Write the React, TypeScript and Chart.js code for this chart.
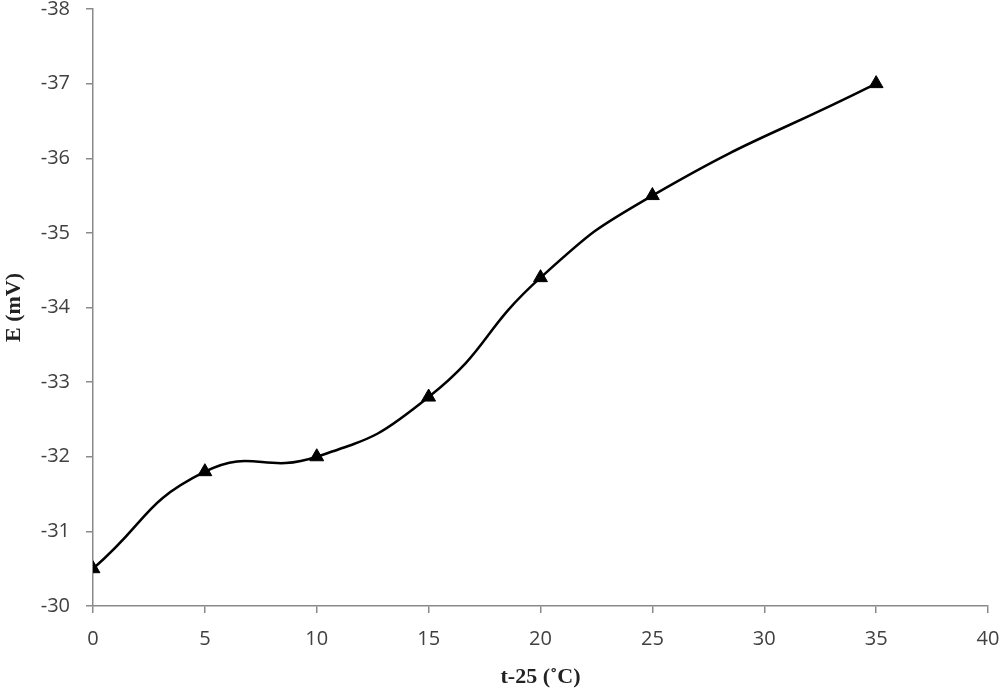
import React, { useEffect, useRef } from "react";
import { Chart, registerables } from "chart.js";

Chart.register(...registerables);

const xValues = [0, 5, 10, 15, 20, 25, 35];
const eValues = [-30.5, -31.8, -32.0, -32.8, -34.4, -35.5, -37.0];
const xTitle = "t-25 (˚C)";
const yTitle = "E (mV)";

export default function App() {
  const ref = useRef<HTMLCanvasElement | null>(null);
  useEffect(() => {
    if (!ref.current) return;
    const axisColor = "#8a8a8a";
    const tickFont = { family: "'Open Sans', sans-serif", size: 20 };
    const titleFont = { family: "'Liberation Serif', 'Times New Roman', serif", size: 22, weight: "bold" as const };
    const chart = new Chart(ref.current, {
      type: "line",
      data: {
        datasets: [
          {
            data: xValues.map((x, i) => ({ x, y: eValues[i] })),
            borderColor: "#000",
            backgroundColor: "#000",
            borderWidth: 2.5,
            tension: 0.5,
            pointStyle: "triangle",
            pointRadius: 8,
            pointHoverRadius: 8,
            pointBackgroundColor: "#000",
            pointBorderColor: "#000",
            pointBorderWidth: 1,
            fill: false,
          },
        ],
      },
      options: {
        animation: false,
        responsive: true,
        maintainAspectRatio: false,
        layout: { padding: { top: 9, right: 12, left: 0, bottom: 0 } },
        plugins: { legend: { display: false }, tooltip: { enabled: false } },
        scales: {
          x: {
            type: "linear",
            min: 0,
            max: 40,
            ticks: { stepSize: 5, color: "#404040", font: tickFont, padding: 14 },
            grid: { display: true, drawOnChartArea: false, drawTicks: true, tickLength: 7, color: axisColor, lineWidth: 1.5 },
            border: { display: true, color: axisColor, width: 1.5 },
            title: { display: true, text: xTitle, color: "#222", font: titleFont, padding: { top: 0, bottom: 0 } },
            afterFit: (s: any) => {
              s.height = 85;
              s.paddingLeft = 0;
              s.paddingRight = 0;
            },
          },
          y: {
            type: "linear",
            min: -38,
            max: -30,
            reverse: true,
            ticks: { stepSize: 1, color: "#404040", font: tickFont, padding: 16 },
            grid: { display: true, drawOnChartArea: false, drawTicks: true, tickLength: 7, color: axisColor, lineWidth: 1.5 },
            border: { display: true, color: axisColor, width: 1.5 },
            title: { display: true, text: yTitle, color: "#222", font: titleFont, padding: { top: 1, bottom: 0 } },
            afterFit: (s: any) => {
              s.width = 93;
              s.paddingTop = 0;
              s.paddingBottom = 0;
            },
          },
        },
      },
    });
    return () => chart.destroy();
  }, []);
  return (
    <div style={{ position: "fixed", left: 0, top: 0, width: 1000, height: 691, background: "#fff" }}>
      <canvas ref={ref} />
    </div>
  );
}
